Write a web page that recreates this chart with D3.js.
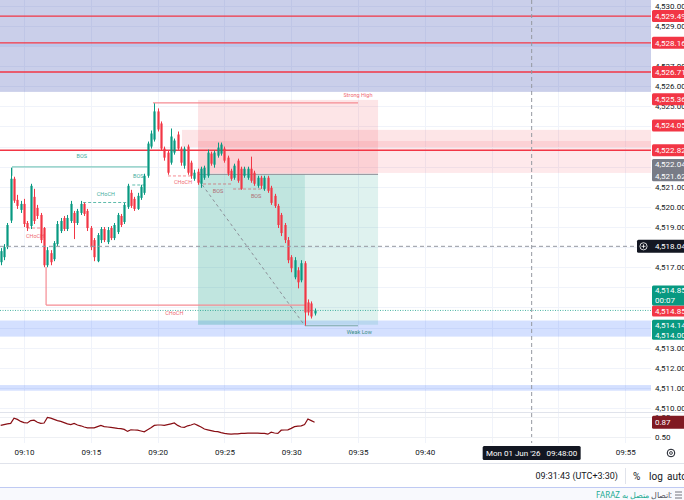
<!DOCTYPE html>
<html>
<head>
<meta charset="utf-8">
<script src="https://cdn.jsdelivr.net/npm/d3@7"></script>
<style>
body { margin: 0; background: #fff; overflow: hidden; }
svg { display: block; font-family: Roboto, "Noto Sans", sans-serif; }
</style>
</head>
<body>
<script>
// 15 second bars, first bar 09:08:15
let opens  = [4517.25,4517.50,4518.00,4519.32,4521.40,4520.35,4519.85,4520.15,4519.20,4519.05,
              4520.50,4519.95,4519.60,4518.95,4517.10,4517.70,4517.40,4518.15,4518.80,4519.45,
              4518.90,4519.30,4519.70,4519.20,4519.70,4520.15,4519.80,4518.95,4518.35,4517.30,
              4518.35,4518.90,4518.25,4518.95,4518.45,4518.75,4519.55,4519.25,4520.00,4520.70,
              4520.40,4519.90,4520.45,4520.70,4521.55,4523.00,4523.35,4524.75,4524.15,4522.90,
              4522.70,4522.20,4522.70,4523.60,4522.90,4522.05,4523.00,4522.20,4521.40,4521.75,
              4521.15,4521.45,4521.55,4522.65,4522.10,4522.55,4522.65,4522.90,4522.45,4521.80,
              4521.45,4522.30,4521.90,4521.55,4521.45,4521.90,4521.70,4521.05,4521.45,4520.90,
              4521.45,4520.95,4520.55,4520.05,4519.60,4519.10,4518.35,4517.50,4516.50,4516.85,
              4516.35,4517.20,4515.25,4515.20,4514.70];
let highs  = [4517.95,4518.15,4519.20,4521.94,4521.50,4520.60,4520.30,4520.40,4519.30,4521.15,
              4520.90,4520.10,4519.70,4519.00,4518.00,4517.85,4518.30,4519.30,4519.45,4519.55,
              4519.60,4520.30,4519.80,4519.90,4520.30,4520.22,4519.90,4519.05,4518.45,4518.70,
              4519.00,4519.00,4519.00,4519.05,4519.20,4519.70,4519.65,4520.20,4521.15,4520.85,
              4520.50,4520.70,4521.10,4521.65,4523.25,4523.80,4525.15,4524.90,4524.25,4523.00,
              4522.80,4523.90,4523.40,4523.75,4523.00,4523.00,4523.10,4522.30,4521.85,4521.90,
              4522.00,4522.05,4522.85,4522.75,4522.80,4523.20,4523.20,4523.00,4522.55,4521.90,
              4522.15,4522.40,4522.00,4522.00,4522.00,4522.50,4521.80,4521.55,4521.55,4521.55,
              4521.55,4521.05,4520.65,4520.15,4519.70,4519.20,4518.50,4517.60,4517.50,4517.00,
              4517.35,4517.30,4515.40,4515.30,4514.95];
let lows   = [4517.10,4517.35,4517.90,4519.20,4520.20,4519.90,4519.70,4519.00,4518.80,4518.90,
              4519.15,4519.40,4518.20,4517.00,4517.00,4517.10,4517.30,4518.05,4518.70,4518.80,
              4518.80,4519.20,4518.40,4519.10,4519.60,4519.55,4518.80,4517.85,4517.30,4517.25,
              4518.20,4518.25,4518.15,4518.35,4518.35,4518.65,4519.00,4519.15,4519.90,4519.95,
              4519.80,4519.85,4520.35,4520.60,4521.45,4522.90,4523.25,4523.75,4522.80,4522.30,
              4521.60,4522.10,4522.60,4522.80,4522.05,4521.90,4521.60,4521.40,4521.30,4521.10,
              4520.95,4521.35,4521.45,4522.05,4521.95,4522.45,4522.55,4522.20,4521.55,4521.30,
              4521.35,4521.20,4520.85,4521.45,4521.35,4521.20,4521.05,4520.95,4520.90,4520.80,
              4520.70,4520.10,4519.95,4518.95,4518.55,4518.20,4517.20,4516.75,4516.40,4515.95,
              4516.25,4514.10,4514.60,4514.45,4514.60];
let closes = [4517.80,4518.00,4519.10,4521.40,4520.31,4520.05,4520.15,4519.15,4518.95,4521.05,
              4519.30,4519.55,4518.35,4517.10,4517.85,4517.25,4518.20,4519.15,4519.30,4518.90,
              4519.45,4520.15,4519.20,4519.80,4520.15,4519.65,4518.95,4518.00,4517.50,4518.60,
              4518.90,4518.35,4518.85,4518.45,4519.10,4519.60,4519.10,4520.10,4521.05,4520.05,
              4519.90,4520.55,4521.00,4521.55,4523.15,4523.65,4524.75,4523.85,4522.90,4522.45,
              4521.70,4523.50,4523.30,4522.90,4522.20,4522.90,4521.70,4521.55,4521.70,4521.20,
              4521.90,4521.95,4522.70,4522.15,4522.70,4522.95,4523.10,4522.30,4521.65,4521.40,
              4522.05,4521.30,4520.90,4521.90,4521.90,4521.30,4521.15,4521.45,4521.05,4521.45,
              4520.80,4520.20,4520.05,4519.10,4518.70,4518.35,4517.35,4516.95,4517.35,4516.25,
              4517.20,4514.75,4514.75,4514.55,4514.85];
// lower pane oscillator, one value per bar
let osc = [0.79,0.81,0.83,0.84,0.97,0.94,0.89,0.86,0.85,0.91,
           0.92,0.87,0.84,0.85,0.99,0.97,0.94,0.91,0.89,0.86,
           0.83,0.81,0.84,0.80,0.78,0.75,0.73,0.73,0.73,0.76,
           0.79,0.76,0.75,0.74,0.73,0.715,0.71,0.69,0.64,0.68,
           0.675,0.67,0.65,0.63,0.68,0.73,0.79,0.80,0.80,0.79,
           0.81,0.83,0.85,0.79,0.75,0.74,0.78,0.80,0.83,0.79,
           0.75,0.70,0.68,0.66,0.64,0.635,0.61,0.59,0.58,0.57,
           0.58,0.58,0.59,0.59,0.595,0.595,0.60,0.595,0.59,0.59,
           0.57,0.62,0.60,0.59,0.67,0.675,0.68,0.715,0.76,0.77,
           0.78,0.81,0.95,0.91,0.87];

let redLevels = [4529.49, 4528.16, 4526.71, 4522.82];
let redTags = [4529.49, 4528.16, 4526.71, 4525.36, 4524.05, 4522.82];
let grayTags = [4522.04, 4521.62];
let targetTags = [4514.14, 4514.00];
let lastPrice = 4514.85;
let countdown = '00:07';
let crossPrice = 4518.04;
let crossTime = new Date(2026, 5, 1, 9, 48, 0);
let oscTicks = [1.00, 0.50];
let oscLast = 0.87;
// axis labels hidden behind tags in the reference are left out
let priceTicks = [4510, 4511, 4512, 4513, 4517, 4519, 4520, 4521, 4525, 4526, 4527, 4529, 4530];
let gridPrices = d3.range(4510, 4531);

// position tool (bar indices / prices)
let posStart = 59.1, posNow = 91.1, posEnd = 113;
let entry = 4521.62, stop = 4525.32, target = 4514.14;

let width = 684;
let height = 500;
let plotRight = 651;
let mainBottom = 412;

let firstBar = new Date(2026, 5, 1, 9, 8, 15);
function barTime(i){ return new Date(+firstBar + i * 15000); }

let x = d3.scaleTime()
.domain([new Date(2026, 5, 1, 9, 8, 12), new Date(2026, 5, 1, 9, 56, 56)])
.range([0, plotRight]);

let y = d3.scaleLinear()
.domain([4509.90, 4530.29])
.range([410, 0]);

let yo = d3.scaleLinear()
.domain([0.5, 1.0])
.range([437, 417]);

let bx = function(i){ return x(barTime(i)); };

let svg = d3.select('body')
.append('svg')
.attr('width', width)
.attr('height', height);

svg.append('rect').attr('width', width).attr('height', height).attr('fill', '#fff');

svg.append('clipPath').attr('id', 'mainclip')
.append('rect').attr('width', plotRight).attr('height', mainBottom);
svg.append('clipPath').attr('id', 'subclip')
.append('rect').attr('y', mainBottom).attr('width', plotRight).attr('height', 31);

// grid
let timeTicks = x.ticks(d3.timeMinute.every(5));
svg.append('g').selectAll('line')
.data(timeTicks.filter(d => x(d) < plotRight))
.enter().append('line')
.attr('x1', d => Math.round(x(d)) + 0.5).attr('x2', d => Math.round(x(d)) + 0.5)
.attr('y1', 0).attr('y2', 443)
.attr('stroke', '#f0f3fa');

let main = svg.append('g').attr('clip-path', 'url(#mainclip)');

main.append('g').selectAll('line')
.data(gridPrices)
.enter().append('line')
.attr('x1', 0).attr('x2', plotRight)
.attr('y1', d => Math.round(y(d)) + 0.5).attr('y2', d => Math.round(y(d)) + 0.5)
.attr('stroke', '#f0f3fa');

// zones
function zone(x1, x2, p1, p2, fill){
    main.append('rect')
    .attr('x', x1).attr('width', x2 - x1)
    .attr('y', y(Math.max(p1, p2))).attr('height', Math.abs(y(p1) - y(p2)))
    .attr('fill', fill);
}
zone(0, plotRight, 4530.6, 4525.72, 'rgba(63,81,181,0.28)');
zone(0, plotRight, 4514.35, 4513.55, 'rgba(41,98,255,0.2)');
zone(0, plotRight, 4511.14, 4510.86, 'rgba(41,98,255,0.2)');
zone(bx(54.3), plotRight, 4523.83, 4522.98, 'rgba(242,54,69,0.13)');
zone(bx(posStart), plotRight, 4523.28, 4521.69, 'rgba(242,54,69,0.11)');

// position tool
zone(bx(posStart), bx(posEnd), stop, entry, 'rgba(242,54,69,0.13)');
zone(bx(posStart), bx(posEnd), entry, target, 'rgba(8,153,129,0.13)');
zone(bx(posStart), bx(posNow), entry, target, 'rgba(8,153,129,0.14)');
main.append('line')
.attr('x1', bx(posStart)).attr('x2', bx(posEnd))
.attr('y1', y(entry)).attr('y2', y(entry))
.attr('stroke', '#8a8d96').attr('stroke-width', 1);

// horizontal red levels
main.append('g').selectAll('line')
.data(redLevels)
.enter().append('line')
.attr('x1', 0).attr('x2', plotRight)
.attr('y1', d => y(d)).attr('y2', d => y(d))
.attr('stroke', '#f23645').attr('stroke-width', 1.4);
main.append('line')
.attr('x1', 0).attr('x2', plotRight)
.attr('y1', y(4528.1) + 1).attr('y2', y(4528.1) + 1)
.attr('stroke', '#a9c4f0').attr('stroke-width', 1);

// structure lines
function seg(i1, p1, i2, p2, color, dash, w){
    main.append('line')
    .attr('x1', bx(i1)).attr('y1', y(p1))
    .attr('x2', bx(i2)).attr('y2', y(p2))
    .attr('stroke', color)
    .attr('stroke-width', w || 1)
    .attr('stroke-dasharray', dash || null);
}
function note(i, p, txt, color){
    main.append('text')
    .attr('x', bx(i)).attr('y', y(p))
    .attr('text-anchor', 'middle')
    .attr('font-size', 5.5)
    .attr('fill', color)
    .text(txt);
}

let green = '#089981', red = '#f23645';
let softGreen = '#7fcabe', softRed = '#f58b93';

seg(3.4, 4521.99, 44, 4521.99, softGreen, null, 1.2);
seg(3.4, 4521.99, 3.4, 4521.55, softGreen, null, 1.2);
note(24.3, 4522.45, 'BOS', '#3fae9e');
seg(24.7, 4520.22, 38.1, 4520.22, '#5fbcad', '3,2', 1);
note(31.5, 4520.55, 'CHoCH', '#3fae9e');
seg(39.4, 4521.09, 43.8, 4521.09, '#5fbcad', '3,2', 1);
note(41.2, 4521.45, 'BOS', '#3fae9e');

seg(7.9, 4518.95, 12.4, 4518.95, softRed, '3,2', 1);
note(10.3, 4518.45, 'CHoCH', '#ef6a74');
seg(50.1, 4521.54, 57.6, 4521.54, softRed, '3,2', 1);
note(54.6, 4521.13, 'CHoCH', '#ef6a74');
seg(60.6, 4521.14, 69.3, 4521.14, '#c9868b', '3,2', 1);
note(65.1, 4520.68, 'BOS', '#b06f75');
seg(69.6, 4520.89, 79.2, 4520.89, '#c9868b', '3,2', 1);
note(76.5, 4520.42, 'BOS', '#b06f75');

seg(13.6, 4517.01, 13.6, 4515.12, softRed, null, 1.2);
seg(13.6, 4515.12, 91.1, 4515.12, softRed, null, 1.2);
note(52, 4514.6, 'CHoCH', '#ef6a74');

seg(45.6, 4525.17, 107, 4525.17, softRed, null, 1.2);
note(107, 4525.45, 'Strong High', '#ef6a74');
seg(91.1, 4514.09, 107, 4514.09, '#7aa9a6', null, 1.2);
note(107.4, 4513.68, 'Weak Low', '#3c8f86');

seg(59.3, 4521.34, 91.1, 4514.09, '#8c8f98', '3,3', 1);

// last price dotted line
main.append('line')
.attr('x1', 0).attr('x2', plotRight)
.attr('y1', y(lastPrice)).attr('y2', y(lastPrice))
.attr('stroke', green).attr('stroke-width', 1).attr('stroke-dasharray', '1,1.5')
.attr('opacity', 0.7);

// candles
let bars = d3.range(opens.length);
let candles = main.append('g').selectAll('g')
.data(bars)
.enter().append('g');
candles.append('line')
.attr('x1', i => Math.round(bx(i)) + 0.5).attr('x2', i => Math.round(bx(i)) + 0.5)
.attr('y1', i => y(highs[i])).attr('y2', i => y(lows[i]))
.attr('stroke', i => closes[i] >= opens[i] ? green : red);
candles.append('rect')
.attr('x', i => Math.round(bx(i)) - 0.6)
.attr('width', 2.2)
.attr('y', i => y(Math.max(opens[i], closes[i])))
.attr('height', i => Math.max(1, Math.abs(y(opens[i]) - y(closes[i]))))
.attr('fill', i => closes[i] >= opens[i] ? green : red);

// crosshair
main.append('line')
.attr('x1', 0).attr('x2', plotRight)
.attr('y1', y(crossPrice)).attr('y2', y(crossPrice))
.attr('stroke', '#9598a1').attr('stroke-dasharray', '4,3');
svg.append('line')
.attr('x1', x(crossTime)).attr('x2', x(crossTime))
.attr('y1', 0).attr('y2', 443)
.attr('stroke', '#9598a1').attr('stroke-dasharray', '4,3');

// panes separators
svg.append('line').attr('x1', 0).attr('x2', width).attr('y1', 412.5).attr('y2', 412.5).attr('stroke', '#e0e3eb');
svg.append('line').attr('x1', 0).attr('x2', plotRight).attr('y1', yo(1.0) + 0.5).attr('y2', yo(1.0) + 0.5).attr('stroke', '#eef0f4');
svg.append('line').attr('x1', 0).attr('x2', plotRight).attr('y1', yo(0.5) + 0.5).attr('y2', yo(0.5) + 0.5).attr('stroke', '#eef0f4');
svg.append('line').attr('x1', 0).attr('x2', width).attr('y1', 463.5).attr('y2', 463.5).attr('stroke', '#e0e3eb');

// oscillator
let oscLine = d3.line()
.x(i => bx(i))
.y(i => yo(osc[i]));
svg.append('path')
.attr('clip-path', 'url(#subclip)')
.attr('d', oscLine(bars))
.attr('fill', 'none')
.attr('stroke', '#880e14')
.attr('stroke-width', 1.2);

// price axis
let priceAxis = svg.append('g')
.attr('transform', 'translate(' + plotRight + ',0)')
.call(d3.axisRight(y).tickValues(priceTicks).tickFormat(d3.format(',.2f')).tickSize(0).tickPadding(4));
priceAxis.select('.domain').remove();
priceAxis.selectAll('text').attr('font-size', 8).attr('fill', '#131722').attr('font-family', 'Roboto, sans-serif');

let oscAxis = svg.append('g')
.attr('transform', 'translate(' + plotRight + ',0)')
.call(d3.axisRight(yo).tickValues(oscTicks).tickFormat(d3.format('.2f')).tickSize(0).tickPadding(4));
oscAxis.select('.domain').remove();
oscAxis.selectAll('text').attr('font-size', 8).attr('fill', '#131722').attr('font-family', 'Roboto, sans-serif');

// time axis (ticks under the crosshair label are hidden, as in the chart)
let timeAxis = svg.append('g')
.attr('transform', 'translate(0,447)')
.call(d3.axisBottom(x)
    .tickValues(timeTicks.filter(d => Math.abs(x(d) - x(crossTime)) > 55))
    .tickFormat(d3.timeFormat('%H:%M')).tickSize(0).tickPadding(2));
timeAxis.select('.domain').remove();
timeAxis.selectAll('text').attr('font-size', 8).attr('fill', '#131722').attr('font-family', 'Roboto, sans-serif');

// price tags
function tag(top, h, lines, bg, x0){
    let g = svg.append('g');
    x0 = x0 || 652;
    g.append('rect')
    .attr('x', x0).attr('y', top).attr('width', width - x0 + 2).attr('height', h)
    .attr('rx', 1.5).attr('fill', bg);
    let step = h / lines.length;
    lines.forEach(function(t, k){
        g.append('text')
        .attr('x', 655).attr('y', top + step * k + step / 2)
        .attr('dy', '0.35em')
        .attr('font-size', 8).attr('fill', '#fff')
        .text(t);
    });
    return g;
}
let fmt = d3.format(',.2f');
redTags.forEach(function(p){ tag(y(p) - 6, 12, [fmt(p)], red); });
tag(y(grayTags[0]) - 7, y(grayTags[1]) - y(grayTags[0]) + 14, grayTags.map(fmt), '#787b86');
tag(y(lastPrice) - 5, 11, [fmt(lastPrice)], red);
tag(y(lastPrice) - 25, 20, [fmt(lastPrice), countdown], green);
tag(y(targetTags[0]) - 5, 20, targetTags.map(fmt), green);

let cross = tag(y(crossPrice) - 6.5, 13, [fmt(crossPrice)], '#131722', 637);
cross.append('circle').attr('cx', 643.5).attr('cy', y(crossPrice)).attr('r', 3.6)
.attr('fill', 'none').attr('stroke', '#fff').attr('stroke-width', 0.8);
cross.append('path')
.attr('d', 'M641.5,' + y(crossPrice) + 'H645.5M643.5,' + (y(crossPrice) - 2) + 'V' + (y(crossPrice) + 2))
.attr('stroke', '#fff').attr('stroke-width', 0.8);

tag(yo(oscLast) - 6.5, 13, [d3.format('.2f')(oscLast)], '#801922');

// crosshair time label
let tfmt = d3.timeFormat("%a %d %b '%y");
let tl = svg.append('g');
tl.append('rect').attr('x', x(crossTime) - 49).attr('y', 446).attr('width', 98).attr('height', 14).attr('rx', 1.5).attr('fill', '#131722');
tl.append('text').attr('x', x(crossTime)).attr('y', 453).attr('dy', '0.35em')
.attr('text-anchor', 'middle').attr('font-size', 8).attr('fill', '#fff')
.attr('xml:space', 'preserve')
.text(tfmt(crossTime) + '   ' + d3.timeFormat('%H:%M:%S')(crossTime));

// settings gear
svg.append('circle').attr('cx', 671).attr('cy', 453).attr('r', 3.8).attr('fill', 'none').attr('stroke', '#131722').attr('stroke-width', 1);
svg.append('circle').attr('cx', 671).attr('cy', 453).attr('r', 1.4).attr('fill', 'none').attr('stroke', '#131722').attr('stroke-width', 0.8);

// status bar
svg.append('text').attr('x', 618).attr('y', 476).attr('dy', '0.35em')
.attr('text-anchor', 'end').attr('font-size', 9).attr('fill', '#131722')
.text('09:31:43 (UTC+3:30)');
svg.append('line').attr('x1', 625.5).attr('x2', 625.5).attr('y1', 468).attr('y2', 484).attr('stroke', '#e0e3eb');
svg.append('text').attr('x', 633).attr('y', 476).attr('dy', '0.35em')
.attr('font-size', 10).attr('fill', '#131722').text('%');
svg.append('text').attr('x', 649).attr('y', 476).attr('dy', '0.35em')
.attr('font-size', 10).attr('fill', '#131722').text('log');
svg.append('text').attr('x', 667).attr('y', 476).attr('dy', '0.35em')
.attr('font-size', 10).attr('fill', '#131722').text('auto');

// bottom connection bar
svg.append('rect').attr('x', 0).attr('y', 488).attr('width', width).attr('height', 12).attr('fill', '#f8f9fd');
svg.append('line').attr('x1', 0).attr('x2', width).attr('y1', 487.5).attr('y2', 487.5).attr('stroke', '#bfcaf3');
svg.append('text').attr('x', 672).attr('y', 495.5).attr('dy', '0.35em')
.attr('text-anchor', 'end').attr('font-size', 8).attr('fill', '#50535e')
.attr('font-family', 'Noto Sans, sans-serif')
.text('اتصال:');
svg.append('text').attr('x', 649).attr('y', 495.5).attr('dy', '0.35em')
.attr('font-size', 8).attr('fill', '#22ab94')
.attr('font-family', 'Noto Sans, sans-serif')
.attr('direction', 'rtl').attr('text-anchor', 'start')
.text('متصل به FARAZ');
[492, 495, 498].forEach(function(yy){
    svg.append('line').attr('x1', 675).attr('x2', 682).attr('y1', yy).attr('y2', yy).attr('stroke', '#50535e').attr('stroke-width', 0.8);
});
</script>
</body>
</html>
